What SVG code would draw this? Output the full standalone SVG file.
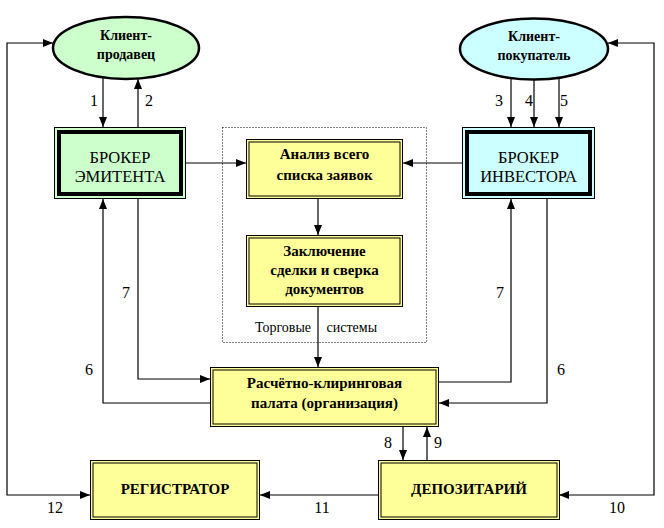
<svg xmlns="http://www.w3.org/2000/svg" width="664" height="528" viewBox="0 0 664 528" font-family="'Liberation Serif', 'Times New Roman', Times, 'DejaVu Serif', serif">
<style>
text{font-family:"Liberation Serif","Times New Roman",Times,"DejaVu Serif",serif;fill:#000;text-anchor:middle}
.b{font-weight:bold;font-size:15px}
.bk{font-size:16.5px}
.el{font-weight:bold;font-size:14px}
.num{font-size:16px}
.ts{font-size:14px}
.ell{stroke:#000;stroke-width:2.5}
.o{stroke:#000;stroke-width:1}
.n{fill:none}
.thick{fill:none;stroke:#000;stroke-width:4}
.yel{fill:#FFFF99}
.grn{fill:#CCFFCC}
.cyn{fill:#CCFFFF}
.con path{fill:none;stroke:#000;stroke-width:1.2}
.a{marker-end:url(#ah)}
.aa{marker-start:url(#ah);marker-end:url(#ah)}
</style>
<defs>
<marker id="ah" viewBox="0 0 10 10" refX="10" refY="5" markerWidth="10" markerHeight="10" markerUnits="userSpaceOnUse" orient="auto-start-reverse">
<path d="M0,1 L10,5 L0,9 Z" fill="#000"/>
</marker>
</defs>
<rect width="664" height="528" fill="#fff"/>

<g id="trading-systems">
<rect x="222.5" y="127.5" width="204" height="215" fill="none" stroke="#000" stroke-width="1" stroke-dasharray="1,2"/>
<text class="ts" x="316" y="332" word-spacing="12">Торговые системы</text>
</g>

<g id="client-seller">
<ellipse cx="126" cy="48" rx="73" ry="31" class="grn ell"/>
<text class="el" x="126" y="40">Клиент-</text>
<text class="el" x="126" y="59">продавец</text>
</g>

<g id="client-buyer">
<ellipse cx="534" cy="49" rx="74" ry="30.5" class="cyn ell"/>
<text class="el" x="534" y="41">Клиент-</text>
<text class="el" x="534" y="60">покупатель</text>
</g>

<g id="broker-emitter">
<rect x="54.5" y="127.5" width="131" height="71" class="grn o"/>
<rect x="59" y="132" width="122" height="62" class="thick"/>
<text class="bk" x="120" y="163">БРОКЕР</text>
<text class="bk" x="120" y="182">ЭМИТЕНТА</text>
</g>

<g id="broker-investor">
<rect x="462.5" y="127.5" width="132" height="71" class="cyn o"/>
<rect x="467" y="132" width="123" height="62" class="thick"/>
<text class="bk" x="528.5" y="163">БРОКЕР</text>
<text class="bk" x="528.5" y="182">ИНВЕСТОРА</text>
</g>

<g id="analysis">
<rect x="246.5" y="139.5" width="156" height="59" class="yel o"/>
<rect x="249" y="142" width="151" height="54" class="n o"/>
<text class="b" x="324.5" y="159">Анализ всего</text>
<text class="b" x="324.5" y="180">списка заявок</text>
</g>

<g id="deal">
<rect x="246.5" y="235.5" width="156" height="71" class="yel o"/>
<rect x="249" y="238" width="151" height="66" class="n o"/>
<text class="b" x="324.5" y="256">Заключение</text>
<text class="b" x="324.5" y="275">сделки и сверка</text>
<text class="b" x="324.5" y="294">документов</text>
</g>

<g id="clearing">
<rect x="210.5" y="367.5" width="228" height="59" class="yel o"/>
<rect x="213" y="370" width="223" height="54" class="n o"/>
<text class="b" x="324.5" y="388">Расчётно-клиринговая</text>
<text class="b" x="324.5" y="408">палата (организация)</text>
</g>

<g id="registrar">
<rect x="90.5" y="460.5" width="169" height="59" class="yel o"/>
<rect x="93" y="463" width="164" height="54" class="n o"/>
<text class="b" x="175" y="494">РЕГИСТРАТОР</text>
</g>

<g id="depositary">
<rect x="378.5" y="460.5" width="181" height="59" class="yel o"/>
<rect x="381" y="463" width="176" height="54" class="n o"/>
<text class="b" x="469" y="494">ДЕПОЗИТАРИЙ</text>
</g>

<g id="connectors" class="con">
<path class="aa" d="M53,43 H7 V495 H90"/>
<path class="aa" d="M608,43 H654 V495 H559"/>
<path class="a" d="M103,78 V127"/>
<path class="a" d="M138,127 V79"/>
<path class="a" d="M511,78 V127"/>
<path class="a" d="M534,79.5 V127"/>
<path class="a" d="M559,78 V127"/>
<path class="a" d="M186,163 H246"/>
<path class="a" d="M462,163 H403"/>
<path class="a" d="M318,199 V235"/>
<path class="a" d="M318,307 V367"/>
<path class="a" d="M138,199 V379 H210"/>
<path class="a" d="M210,403 H103 V199"/>
<path class="a" d="M439,382 H511 V199"/>
<path class="a" d="M547,199 V403 H439"/>
<path class="a" d="M403,427 V460"/>
<path class="a" d="M427,460 V427"/>
<path class="a" d="M378,495 H260"/>
</g>

<g id="labels">
<text class="num" x="94" y="106">1</text>
<text class="num" x="149" y="106">2</text>
<text class="num" x="499" y="106">3</text>
<text class="num" x="529" y="106">4</text>
<text class="num" x="564" y="106">5</text>
<text class="num" x="126" y="298">7</text>
<text class="num" x="500" y="298">7</text>
<text class="num" x="89" y="375">6</text>
<text class="num" x="561" y="375">6</text>
<text class="num" x="388" y="448">8</text>
<text class="num" x="438" y="448">9</text>
<text class="num" x="55" y="513">12</text>
<text class="num" x="322" y="513">11</text>
<text class="num" x="617" y="513">10</text>
</g>
</svg>
